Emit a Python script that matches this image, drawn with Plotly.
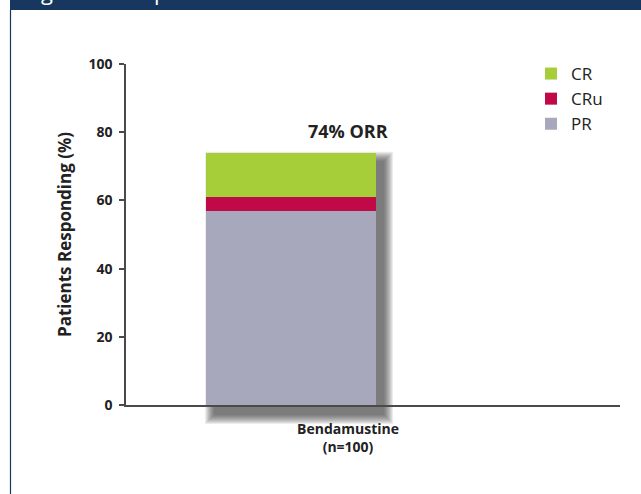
import plotly.graph_objects as go

categories = ["Bendamustine<br>(n=100)"]
series_names = ["PR", "CRu", "CR"]
pr_values = [57]
cru_values = [4]
cr_values = [13]
orr_label = "74% ORR"
colors = {"PR": "#A8A8BC", "CRu": "#C00A48", "CR": "#A6CE39"}
y_ticks = [0, 20, 40, 60, 80, 100]

W, H = 641, 494
ML, MR, MT, MB = 126, 21, 64, 89
PW, PH = W - ML - MR, H - MT - MB
X_RANGE = [-1.306, 1.600]
BAR_W = 1.0
BAR_OFFSET = -0.835
FONT = "Open Sans"

fig = go.Figure()
xpos = list(range(len(categories)))
for name, vals in zip(series_names, [pr_values, cru_values, cr_values]):
    fig.add_trace(go.Bar(x=xpos, y=vals, name=name, width=BAR_W, offset=BAR_OFFSET,
                         marker=dict(color=colors[name], line=dict(width=0))))

total = [a + b + c for a, b, c in zip(pr_values, cru_values, cr_values)]

# drop shadow built from the bar extents
xu = (X_RANGE[1] - X_RANGE[0]) / PW   # data units per pixel in x
yu = 100.0 / PH                       # data units per pixel in y
for xi, t in zip(xpos, total):
    ox, oy = 7, 9
    for k in range(10, 0, -1):
        x0 = xi + BAR_OFFSET + (ox + 2 - k) * xu
        x1 = xi + BAR_OFFSET + BAR_W + (ox + k) * xu
        y1 = (t - (oy - k) * yu) / 100.0
        y0 = (0 - (oy + k) * yu) / 100.0
        fig.add_shape(type="rect", xref="x", yref="paper", x0=x0, x1=x1, y0=y0, y1=y1,
                      fillcolor="rgba(40,40,40,0.09)", line=dict(width=0), layer="below")

fig.add_annotation(x=xpos[0], y=80.5, text="<b>" + orr_label + "</b>", showarrow=False,
                   font=dict(family=FONT, size=18, color="#222222"))

# header band and frame line
fig.add_shape(type="rect", xref="paper", yref="paper",
              x0=(10 - ML) / PW, x1=(W - ML) / PW, y0=1 + (MT - 10) / PH, y1=1 + MT / PH + 0.01,
              fillcolor="#17375E", line=dict(width=0))
fig.add_shape(type="line", xref="paper", yref="paper",
              x0=(10.5 - ML) / PW, x1=(10.5 - ML) / PW, y0=1 + (MT - 10) / PH, y1=-MB / PH - 0.01,
              line=dict(color="#17375E", width=1.2))
fig.add_annotation(xref="paper", yref="paper", x=(22 - ML) / PW, y=1 + (MT + 9) / PH,
                   xanchor="left", yanchor="middle", showarrow=False,
                   text="Figure 3. Response Rates", font=dict(family=FONT, size=22, color="white"))

fig.update_layout(
    width=W, height=H, margin=dict(l=ML, r=MR, t=MT, b=MB),
    paper_bgcolor="white", plot_bgcolor="white", barmode="stack", bargap=0,
    font=dict(family=FONT, color="#222222"),
    showlegend=True,
    legend=dict(traceorder="reversed", x=(531 - ML) / PW, y=1 + 8 / PH, xanchor="left", yanchor="top",
                font=dict(family=FONT, size=17, color="#222222"), bgcolor="rgba(0,0,0,0)",
                itemwidth=30, tracegroupgap=0),
    xaxis=dict(range=X_RANGE, tickvals=xpos, ticktext=["<b>" + c + "</b>" for c in categories],
               showline=True, linecolor="#4a4a4a", linewidth=1.5, showgrid=False, zeroline=False,
               ticks="outside", ticklen=10, tickcolor="rgba(0,0,0,0)",
               tickfont=dict(family=FONT, size=14, color="#222222")),
    yaxis=dict(range=[0, 100], tickvals=y_ticks, ticktext=["<b>%d</b>" % v for v in y_ticks],
               showline=True, linecolor="#4a4a4a", linewidth=1.5, showgrid=False, zeroline=False,
               ticks="outside", ticklen=5, tickwidth=1.5, tickcolor="#4a4a4a",
               ticklabelstandoff=4,
               tickfont=dict(family=FONT, size=14, color="#222222"),
               title=dict(text="<b>Patients Responding (%)</b>", standoff=12,
                          font=dict(family=FONT, size=17, color="#222222"))),
)

fig.write_html("out.html")
